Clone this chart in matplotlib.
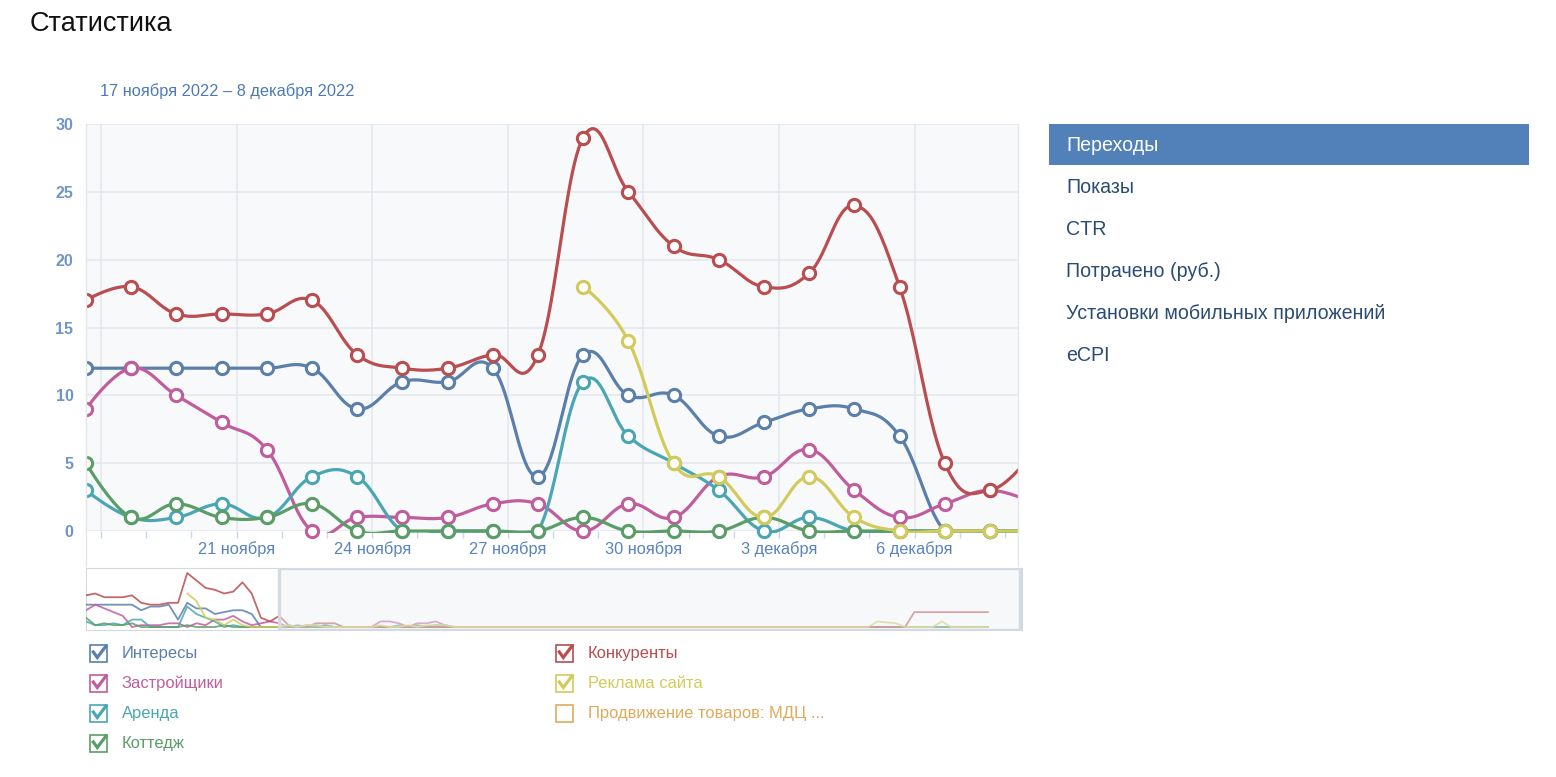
import numpy as np
import matplotlib
matplotlib.use('Agg')
import matplotlib.pyplot as plt
from matplotlib.transforms import Bbox, TransformedBbox
from matplotlib.patches import Rectangle
from matplotlib.lines import Line2D

plt.rcParams['font.family'] = ['Liberation Sans', 'DejaVu Sans']

W, H = 1556, 777

# daily points, index 0 = 17 ноября ... 21 = 8 декабря
interests   = [12, 12, 12, 12, 12, 12, 9, 11, 11, 12, 4, 13, 10, 10, 7, 8, 9, 9, 7, 0, 0, 0]
developers  = [9, 12, 10, 8, 6, 0, 1, 1, 1, 2, 2, 0, 2, 1, 4, 4, 6, 3, 1, 2, 3, 2]
rent        = [3, 1, 1, 2, 1, 4, 4, 0, 0, 0, 0, 11, 7, 5, 3, 0, 1, 0, 0, 0, 0, 0]
cottage     = [5, 1, 2, 1, 1, 2, 0, 0, 0, 0, 0, 1, 0, 0, 0, 1, 0, 0, 0, 0, 0, 0]
competitors = [17, 18, 16, 16, 16, 17, 13, 12, 12, 13, 13, 29, 25, 21, 20, 18, 19, 24, 18, 5, 3, 6]
site_ads    = [np.nan] * 11 + [18, 14, 5, 4, 1, 4, 1, 0, 0, 0, 0]

# navigator continues after the visible window (index 22 .. 98)
nav_competitors = [1, 0, 0, 2, 2, 2, 0, 0, 0, 0, 0,
                   0, 0, 0, 0, 0, 0, 0, 0, 0, 0, 0,
                   0, 0, 0, 0, 0, 0, 0, 0, 0, 0, 0,
                   0, 0, 0, 0, 0, 0, 0, 0, 0, 0, 0,
                   0, 0, 0, 0, 0, 0, 0, 0, 0, 0, 0,
                   0, 0, 0, 0, 0, 0, 0, 0, 0, 0, 0,
                   0, 0, 8, 8, 8, 8, 8, 8, 8, 8, 8]
nav_developers = [0, 0, 0, 1, 0, 0, 0, 0, 0, 0, 3,
                  3, 2, 0, 2, 2, 3, 1, 0, 0, 0, 0,
                  0, 0, 0, 0, 0, 0, 0, 0, 0, 0, 0,
                  0, 0, 0, 0, 0, 0, 0, 0, 0, 0, 0,
                  0, 0, 0, 0, 0, 0, 0, 0, 0, 0, 0,
                  0, 0, 0, 0, 0, 0, 0, 0, 0, 0, 0,
                  0, 0, 0, 0, 0, 0, 0, 0, 0, 0, 0]
nav_site_ads = [1, 0, 1, 1, 0, 0, 0, 0, 0, 0, 1,
                0, 0, 1, 0, 1, 1, 1, 0, 0, 0, 0,
                0, 0, 0, 0, 0, 0, 0, 0, 0, 0, 0,
                0, 0, 0, 0, 0, 0, 0, 0, 0, 0, 0,
                0, 0, 0, 0, 0, 0, 0, 0, 0, 0, 0,
                0, 0, 0, 0, 0, 0, 0, 0, 0, 3, 2.5,
                2, 0, 0, 0, 0, 3, 0, 0, 0, 0, 0]
nav_interests = [0, 0, 1, 0, 0, 0, 0, 0, 0, 0, 0,
                 0, 0, 0, 0, 0, 0, 0, 0, 0, 0, 0,
                 0, 0, 0, 0, 0, 0, 0, 0, 0, 0, 0,
                 0, 0, 0, 0, 0, 0, 0, 0, 0, 0, 0,
                 0, 0, 0, 0, 0, 0, 0, 0, 0, 0, 0,
                 0, 0, 0, 0, 0, 0, 0, 0, 0, 0, 0,
                 0, 0, 0, 0, 0, 0, 0, 0, 0, 0, 0]
nav_rent = [0, 1, 0, 0, 1, 0, 0, 0, 0, 0, 0,
            0, 1, 0, 0, 0, 1, 1, 0, 0, 0, 0,
            0, 0, 0, 0, 0, 0, 0, 0, 0, 0, 0,
            0, 0, 0, 0, 0, 0, 0, 0, 0, 0, 0,
            0, 0, 0, 0, 0, 0, 0, 0, 0, 0, 0,
            0, 0, 0, 0, 0, 0, 0, 0, 0, 0, 0,
            0, 0, 0, 0, 0, 0, 0, 0, 0, 0, 0]
nav_cottage = [0, 0, 0, 0, 1, 0, 0, 0, 0, 0, 0,
               0, 0, 0, 1, 0, 1, 0, 0, 0, 0, 0,
               0, 0, 0, 0, 0, 0, 0, 0, 0, 0, 0,
               0, 0, 0, 0, 0, 0, 0, 0, 0, 0, 0,
               0, 0, 0, 0, 0, 0, 0, 0, 0, 0, 0,
               0, 0, 0, 0, 0, 0, 0, 0, 0, 0, 0,
               0, 0, 0, 0, 0, 0, 0, 0, 0, 0, 0]
nav_promo = [0, 0, 0, 0, 0, 0, 0, 0, 0, 0, 0,
             0, 0, 0, 0, 0, 0, 0, 0, 0, 0, 0,
             0, 0, 0, 0, 0, 0, 0, 0, 0, 0, 0,
             0, 0, 0, 0, 0, 0, 0, 0, 0, 0, 0,
             0, 0, 0, 0, 0, 0, 0, 0, 0, 0, 0,
             0, 0, 0, 0, 0, 0, 0, 0, 0, 0, 0,
             0, 0, 0, 0, 0, 0, 0, 0, 0, 0, 0]

tick_days = [4, 7, 10, 13, 16, 19]
tick_labels = ['21 ноября', '24 ноября', '27 ноября', '30 ноября', '3 декабря', '6 декабря']

series_names = ['Интересы', 'Застройщики', 'Аренда', 'Коттедж', 'Конкуренты', 'Реклама сайта']
series_data = [interests, developers, rent, cottage, competitors, site_ads]
nav_tails = [nav_interests, nav_developers, nav_rent, nav_cottage, nav_competitors, nav_site_ads]
colors = ['#5a7fab', '#c05d9c', '#4aa6b3', '#5a9d67', '#b94d4f', '#d2cb5c']
promo_name = 'Продвижение товаров: МДЦ ...'
promo_color = '#dfaa5c'

menu_items = ['Переходы', 'Показы', 'CTR', 'Потрачено (руб.)',
              'Установки мобильных приложений', 'eCPI']


def fx(px):
    return px / W


def fy(py):
    return 1 - py / H


def hc_spline(x, y, smoothing=1.5, steps=24):
    # old highcharts style spline (no false-extreme clamp)
    x = np.asarray(x, float)
    y = np.asarray(y, float)
    n = len(x)
    lcx, lcy, rcx, rcy = x.copy(), y.copy(), x.copy(), y.copy()
    d = smoothing + 1
    for i in range(1, n - 1):
        lx = (smoothing * x[i] + x[i - 1]) / d
        ly = (smoothing * y[i] + y[i - 1]) / d
        rx = (smoothing * x[i] + x[i + 1]) / d
        ry = (smoothing * y[i] + y[i + 1]) / d
        corr = (ry - ly) * (rx - x[i]) / (rx - lx) + y[i] - ry
        lcx[i], lcy[i], rcx[i], rcy[i] = lx, ly + corr, rx, ry + corr
    t = np.linspace(0, 1, steps)
    xs, ys = [x[0]], [y[0]]
    for i in range(1, n):
        a = (1 - t) ** 3
        b = 3 * t * (1 - t) ** 2
        c = 3 * t ** 2 * (1 - t)
        e = t ** 3
        xs.extend((a * x[i - 1] + b * rcx[i - 1] + c * lcx[i] + e * x[i])[1:])
        ys.extend((a * y[i - 1] + b * rcy[i - 1] + c * lcy[i] + e * y[i])[1:])
    return np.array(xs), np.array(ys)


fig = plt.figure(figsize=(W / 100, H / 100), dpi=100)
fig.patch.set_facecolor('white')

# 1. main chart
ax = fig.add_axes([fx(86), fy(531), fx(1018) - fx(86), fy(124) - fy(531)])
ax.set_facecolor('#f8f9fb')
ax.set_xlim(0, 20.62)
ax.set_ylim(0, 30)
for s in ax.spines.values():
    s.set_visible(False)

ax.set_yticks(range(0, 31, 5))
ax.grid(axis='y', color='#e4e7ec', linewidth=1.2, zorder=0)
for d in [1] + tick_days:
    ax.axvline(d - 2 / 3, color='#e4e7ec', linewidth=1.2, zorder=0)

ax.set_xticks([d - 2 / 3 for d in tick_days])
ax.set_xticklabels(tick_labels)
ax.set_xticks([d - 2 / 3 for d in range(1, 22)], minor=True)
ax.tick_params(axis='x', which='both', length=5, width=1, color='#ccd6eb',
               labelcolor='#5a83bd', labelsize=11.8, pad=2)
ax.tick_params(axis='y', length=0, pad=9, labelcolor='#7095c8', labelsize=11.5)
for lab in ax.get_yticklabels():
    lab.set_fontweight('bold')

line_clip = TransformedBbox(Bbox.from_extents(fx(86), fy(533), fx(1018), fy(120)), fig.transFigure)
mark_clip = TransformedBbox(Bbox.from_extents(fx(86), fy(546), fx(1018), fy(110)), fig.transFigure)

days = np.arange(len(interests))
for k, (vals, col) in enumerate(zip(series_data, colors)):
    vals = np.asarray(vals, float)
    ok = ~np.isnan(vals)
    sx, sy = hc_spline(days[ok], vals[ok])
    ln, = ax.plot(sx, sy, color=col, linewidth=2.3, zorder=3 + 2 * k,
                  solid_capstyle='round')
    ln.set_clip_box(line_clip)
    mk, = ax.plot(days[ok], vals[ok], linestyle='none', marker='o', markersize=8.8,
                  markerfacecolor='white', markeredgecolor=col, markeredgewidth=2.2,
                  zorder=4 + 2 * k)
    mk.set_clip_box(mark_clip)

# thin border lines on both sides of the plot
for px in (86, 1018):
    fig.add_artist(Line2D([fx(px), fx(px)], [fy(124), fy(566)], color='#e3e6eb',
                          linewidth=1, transform=fig.transFigure))

# 2. navigator
nav = fig.add_axes([fx(86), fy(630), fx(1022) - fx(86), fy(568) - fy(630)])
nav.set_facecolor('white')
nav.set_xlim(0, 101.7)
nav.set_ylim(-1.6, 31.7)
nav.set_xticks([])
nav.set_yticks([])
for s in nav.spines.values():
    s.set_color('#d3d9e1')
    s.set_linewidth(0.8)
nav.plot(np.arange(22, 22 + len(nav_promo)), nav_promo, color=promo_color,
         linewidth=1.2, alpha=0.85, zorder=2)
for vals, tail, col in zip(series_data, nav_tails, colors):
    full = list(vals) + list(tail)
    nav.plot(np.arange(len(full)), full, color=col, linewidth=1.3, alpha=0.85, zorder=3)
nav.add_patch(Rectangle((21.0, -1.4), 80.5, 32.9, facecolor=(0.93, 0.945, 0.96, 0.45),
                        edgecolor='#d5dae2', linewidth=2.4, zorder=5))

# 3. legend with checkboxes
legend_items = [(series_names[0], colors[0], True, 90, 653),
                (series_names[1], colors[1], True, 90, 683),
                (series_names[2], colors[2], True, 90, 713),
                (series_names[3], colors[3], True, 90, 743),
                (series_names[4], colors[4], True, 556, 653),
                (series_names[5], colors[5], True, 556, 683),
                (promo_name, promo_color, False, 556, 713)]
for name, col, checked, bx, cy in legend_items:
    by = cy - 8.5
    fig.add_artist(Rectangle((fx(bx), fy(by + 17)), 17 / W, 17 / H, facecolor='white',
                             edgecolor=col, linewidth=1.2, transform=fig.transFigure))
    if checked:
        cxs = [bx + 3.3, bx + 7.3, bx + 16]
        cys = [by + 7.5, by + 13, by + 1.5]
        fig.add_artist(Line2D([fx(v) for v in cxs], [fy(v) for v in cys], color=col,
                              linewidth=2.3, solid_joinstyle='miter',
                              transform=fig.transFigure))
    fig.text(fx(bx + 32), fy(cy + 0.5), name, color=col, fontsize=11.9, va='center', ha='left')

# 4. header texts
fig.text(fx(30), fy(24), 'Статистика', fontsize=19.5, color='#111111', va='center')
fig.text(fx(100), fy(91.5), '17 ноября 2022 – 8 декабря 2022', fontsize=11.8,
         color='#4d7ab5', va='center')

# 5. right menu
fig.add_artist(Rectangle((fx(1049), fy(165)), (1529 - 1049) / W, 41 / H,
                         facecolor='#5181b8', edgecolor='none', transform=fig.transFigure))
for i, item in enumerate(menu_items):
    fig.text(fx(1066), fy(145.5 + 42 * i), item, fontsize=14.1, va='center',
             color='white' if i == 0 else '#2a4b72')

fig.savefig('out.png', dpi=100)
